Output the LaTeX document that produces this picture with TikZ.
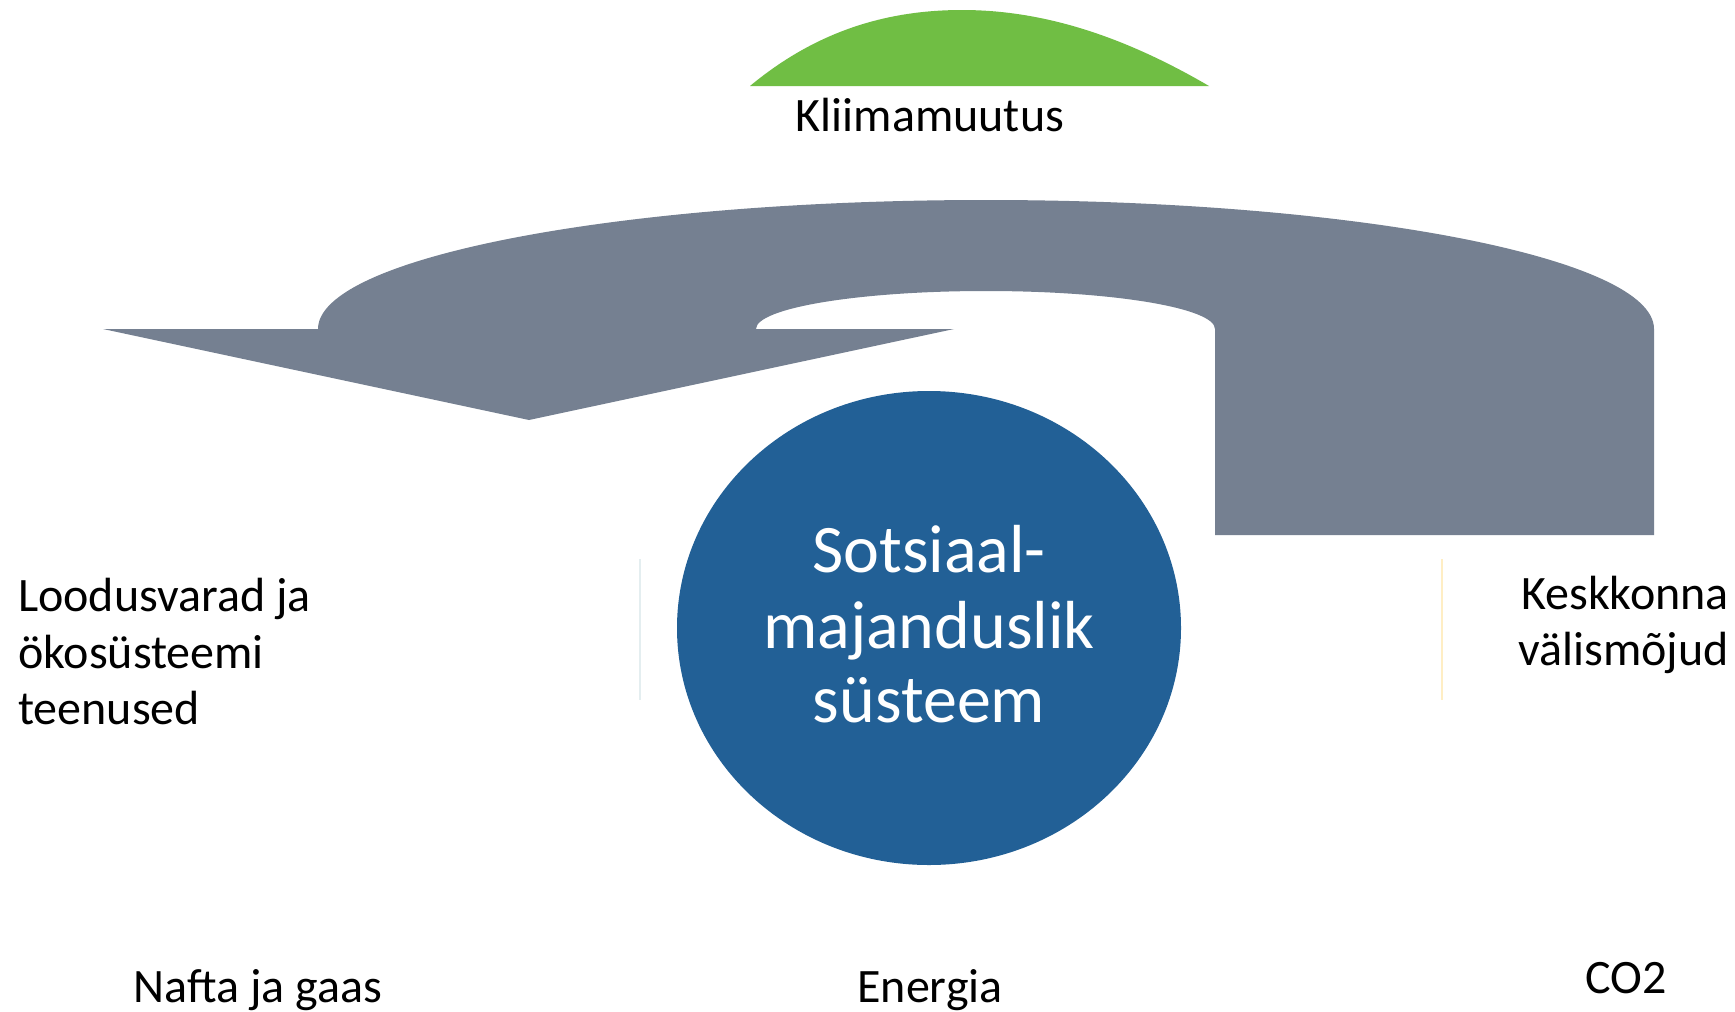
\documentclass[tikz,border=0pt]{standalone}
\usepackage{fontspec}
\setmainfont{Carlito}
\usetikzlibrary{shapes.geometric}
\definecolor{arrowgray}{RGB}{117,128,145}
\definecolor{domegreen}{RGB}{112,190,68}
\definecolor{sysblue}{RGB}{34,96,150}
\definecolor{faintblue}{RGB}{228,238,240}
\definecolor{faintyellow}{RGB}{255,238,196}
\tikzset{
  lbl/.style={font=\fontsize{48}{57}\selectfont, inner sep=0pt, text=black},
  inlbl/.style={font=\fontsize{68}{75}\selectfont, inner sep=0pt, text=white, anchor=base},
}
\begin{document}
\begin{tikzpicture}[x=1pt,y=-1pt]
\useasboundingbox[fill=white] (0,0) rectangle (1735,1012);
% green dome
\fill[domegreen] (750,86) .. controls (815,32) and (885,10) .. (962,10)
  .. controls (1040,10) and (1120,34) .. (1209,86) -- cycle;
\node[lbl, anchor=base] (klim) at (930,131) {Kliimamuutus};
% big grey curved arrow
\fill[arrowgray] (103,329) -- (318,329)
  .. controls (318,258) and (617,200) .. (986,200)
  .. controls (1355,200) and (1654,258) .. (1654,329)
  -- (1654,535) -- (1215,535) -- (1215,329)
  .. controls (1215,308) and (1113,291) .. (986,291)
  .. controls (859,291) and (756,308) .. (756,329)
  -- (954,329) -- (529,420) -- cycle;
% faint separators
\draw[faintblue, line width=1.5pt] (640,559) -- (640,700);
\draw[faintyellow, line width=1.5pt] (1442,559) -- (1442,700);
% central system
\node[ellipse, fill=sysblue, minimum width=504pt, minimum height=474pt, inner sep=0pt] (sys) at (929,628) {};
\node[inlbl] (s1) at (929,572) {Sotsiaal-};
\node[inlbl] (s2) at (929,648) {majanduslik};
\node[inlbl] (s3) at (929,722) {süsteem};
% left text
\node[lbl, anchor=base west] (l1) at (18,611) {Loodusvarad ja};
\node[lbl, anchor=base west] (l2) at (18,668) {ökosüsteemi};
\node[lbl, anchor=base west] (l3) at (18,724) {teenused};
% right text
\node[lbl, anchor=base east] (r1) at (1729,609) {Keskkonna};
\node[lbl, anchor=base east] (r2) at (1729,665) {välismõjud};
% bottom labels
\node[lbl, anchor=base] (b1) at (258,1002) {Nafta ja gaas};
\node[lbl, anchor=base] (b2) at (930,1002) {Energia};
\node[lbl, anchor=base] (b3) at (1626,993) {CO2};
\end{tikzpicture}
\end{document}
